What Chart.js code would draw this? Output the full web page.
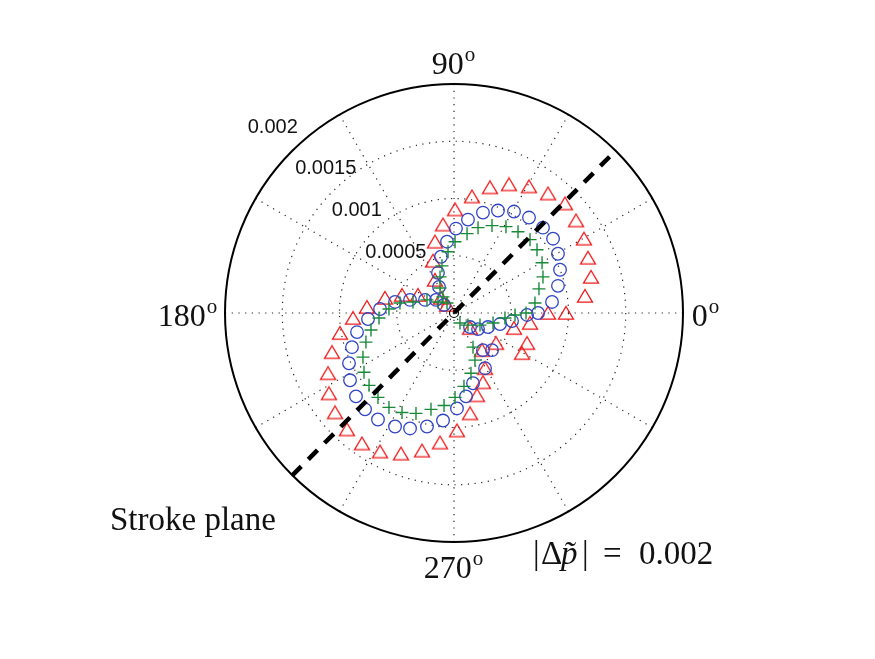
<!DOCTYPE html>
<html>
<head>
<meta charset="utf-8">
<script src="https://cdn.jsdelivr.net/npm/chart.js"></script>
<style>
  body { margin: 0; background: #fff; }
  canvas { display: block; }
</style>
</head>
<body>
<canvas id="polarChart" width="875" height="659"></canvas>
<script>
// Escala radial e ângulos
const rMax = 0.002;
const radialTicks = [0.0005, 0.001, 0.0015, 0.002];
const radialTickLabels = ["0.0005", "0.001", "0.0015", "0.002"];
const spokeAngles = [0, 30, 60, 90, 120, 150, 180, 210, 240, 270, 300, 330];
const angleLabelDeg = [0, 90, 180, 270];
const angleLabelText = ["0", "90", "180", "270"];
const strokePlaneDeg = 45;

// Triângulos vermelhos (componentes x / y de |Δp|)
const triX = [0.000009, -0.000096, -0.000166, -0.000183, -0.000166, -0.000114, -0.000061,
  0.000157, 0.000314, 0.000480, 0.000655, 0.000821, 0.000969, 0.001066, 0.001135, 0.001170,
  0.001197, 0.001144, 0.000978, 0.000821, 0.000664, 0.000524,
  -0.000314, -0.000454, -0.000603, -0.000760, -0.000882, -0.000996, -0.001066, -0.001100,
  -0.001092, -0.001039, -0.000935, -0.000804, -0.000646, -0.000463, -0.000279, -0.000122,
  0.000026, 0.000140, 0.000201, 0.000253, 0.000271, 0.000245, 0.000140, 0.000367, 0.000638, 0.000594];
const triY = [0.000900, 0.000769, 0.000620, 0.000454, 0.000288, 0.000131, 0.000070,
  0.001013, 0.001092, 0.001118, 0.001100, 0.001039, 0.000952, 0.000804, 0.000646, 0.000480,
  0.000314, 0.000148, 0, 0, -0.000087, -0.000131,
  0.000157, 0.000157, 0.000131, 0.000052, -0.000044, -0.000175, -0.000341, -0.000524,
  -0.000699, -0.000865, -0.001013, -0.001135, -0.001205, -0.001223, -0.001197, -0.001127,
  -0.001022, -0.000873, -0.000716, -0.000603, -0.000480, -0.000323, -0.000131, -0.000262, -0.000262, -0.000349];

// Círculos azuis
const circX = [0.000017, -0.000061, -0.000114, -0.000140, -0.000131, -0.000157, -0.000087,
  0.000122, 0.000253, 0.000384, 0.000524, 0.000655, 0.000777, 0.000865, 0.000908, 0.000926,
  0.000908, 0.000856, 0.000734, 0.000638, 0.000507, 0.000402, 0.000297, 0.000210, 0.000140,
  0.000253, 0.000332, 0.000271, 0.000166, 0.000105, 0.000026, -0.000096, -0.000236, -0.000384,
  -0.000515, -0.000664, -0.000777, -0.000856, -0.000908, -0.000917, -0.000891, -0.000847,
  -0.000751, -0.000646, -0.000515, -0.000384, -0.000253];
const circY = [0.000734, 0.000620, 0.000489, 0.000349, 0.000227, 0.000114, 0.000070,
  0.000812, 0.000873, 0.000891, 0.000882, 0.000830, 0.000742, 0.000646, 0.000515, 0.000376,
  0.000236, 0.000096, 0, -0.000017, -0.000070, -0.000096, -0.000122, -0.000140, -0.000122,
  -0.000323, -0.000323, -0.000480, -0.000611, -0.000725, -0.000830, -0.000935, -0.000987, -0.001004,
  -0.000987, -0.000926, -0.000838, -0.000725, -0.000585, -0.000437, -0.000297, -0.000166,
  -0.000052, 0.000035, 0.000096, 0.000114, 0.000114];

// Cruzes verdes
const plusX = [0.000009, -0.000052, -0.000105, -0.000122, -0.000122, -0.000096, -0.000061,
  0.000114, 0.000210, 0.000332, 0.000454, 0.000559, 0.000664, 0.000725, 0.000769, 0.000777,
  0.000742, 0.000707, 0.000629, 0.000533, 0.000445, 0.000341, 0.000227, 0.000122, 0.000052,
  0.000166, 0.000183, 0.000148, 0.000087, 0.000009, -0.000087, -0.000201, -0.000332, -0.000454,
  -0.000568, -0.000664, -0.000742, -0.000786, -0.000795, -0.000769, -0.000725, -0.000655,
  -0.000568, -0.000472, -0.000358, -0.000236, -0.000140];
const plusY = [0.000620, 0.000533, 0.000410, 0.000314, 0.000218, 0.000140, 0.000087,
  0.000690, 0.000742, 0.000760, 0.000751, 0.000707, 0.000638, 0.000550, 0.000437, 0.000314,
  0.000210, 0.000087, 0, -0.000017, -0.000044, -0.000087, -0.000105, -0.000105, -0.000087,
  -0.000297, -0.000410, -0.000524, -0.000638, -0.000734, -0.000804, -0.000838, -0.000873, -0.000865,
  -0.000821, -0.000734, -0.000629, -0.000515, -0.000384, -0.000253, -0.000148, -0.000044,
  0.000035, 0.000087, 0.000096, 0.000114, 0.000096];

function toPoints(xs, ys) {
  return xs.map((v, i) => ({ x: v, y: ys[i] }));
}

// Marcador triangular (estilo MATLAB '^'), centrado na caixa
function triangleMarker(color) {
  const c = document.createElement("canvas");
  c.width = 18;
  c.height = 16;
  const g = c.getContext("2d");
  g.strokeStyle = color;
  g.lineWidth = 1.3;
  g.beginPath();
  g.moveTo(9, 1.5);
  g.lineTo(16.5, 14.2);
  g.lineTo(1.5, 14.2);
  g.closePath();
  g.stroke();
  return c;
}

const sp = strokePlaneDeg * Math.PI / 180;
const strokePlane = [
  { x: -rMax * Math.cos(sp), y: -rMax * Math.sin(sp) },
  { x: rMax * Math.cos(sp), y: rMax * Math.sin(sp) },
];

function drawDegLabel(ctx, text, cx, baseY) {
  ctx.font = "32px 'Liberation Serif'";
  const w1 = ctx.measureText(text).width;
  ctx.font = "21px 'Liberation Serif'";
  const w2 = ctx.measureText("o").width;
  const x0 = cx - (w1 + w2) / 2;
  ctx.font = "32px 'Liberation Serif'";
  ctx.fillText(text, x0, baseY);
  ctx.font = "21px 'Liberation Serif'";
  ctx.fillText("o", x0 + w1 + 1, baseY - 13);
}

// Grade polar (círculos e raios pontilhados) e textos
const polarGrid = {
  id: "polarGrid",
  beforeDatasetsDraw(chart) {
    const { ctx, scales: { x, y } } = chart;
    const cx = x.getPixelForValue(0), cy = y.getPixelForValue(0);
    const R = x.getPixelForValue(rMax) - cx;
    ctx.save();
    ctx.strokeStyle = "#222";
    ctx.lineWidth = 1.2;
    ctx.setLineDash([1.2, 5.5]);
    radialTicks.forEach((t) => {
      if (t >= rMax) return;
      const r = x.getPixelForValue(t) - cx;
      ctx.beginPath();
      ctx.arc(cx, cy, r, 0, Math.PI * 2);
      ctx.stroke();
    });
    spokeAngles.forEach((a) => {
      const rad = a * Math.PI / 180;
      ctx.beginPath();
      ctx.moveTo(cx, cy);
      ctx.lineTo(cx + R * Math.cos(rad), cy - R * Math.sin(rad));
      ctx.stroke();
    });
    ctx.setLineDash([]);
    ctx.strokeStyle = "#000";
    ctx.lineWidth = 2;
    ctx.beginPath();
    ctx.arc(cx, cy, R, 0, Math.PI * 2);
    ctx.stroke();
    ctx.restore();
  },
  afterDatasetsDraw(chart) {
    const { ctx, scales: { x, y } } = chart;
    const cx = x.getPixelForValue(0), cy = y.getPixelForValue(0);
    const R = x.getPixelForValue(rMax) - cx;
    ctx.save();
    ctx.fillStyle = "#111";

    // rótulos radiais
    ctx.font = "20px 'Liberation Sans'";
    ctx.textAlign = "center";
    ctx.textBaseline = "middle";
    const la = 133 * Math.PI / 180;
    radialTicks.forEach((t, i) => {
      const d = x.getPixelForValue(t) - cx + 28;
      const lx = cx + d * Math.cos(la) + (t === rMax ? -6 : 0) + (t === 0.0015 ? 8 : 0);
      ctx.fillText(radialTickLabels[i], lx, cy - d * Math.sin(la) + 2);
    });

    // rótulos de ângulo
    ctx.textAlign = "left";
    ctx.textBaseline = "alphabetic";
    const extra = { 0: 0, 90: 0, 180: 14, 270: 0 };
    angleLabelDeg.forEach((a, i) => {
      const rad = a * Math.PI / 180;
      const d = R * 1.1 + extra[a];
      const px = cx + d * Math.cos(rad) - 1;
      const py = cy - d * Math.sin(rad) + 13;
      drawDegLabel(ctx, angleLabelText[i], px, py);
    });

    // textos
    ctx.font = "33px 'Liberation Serif'";
    ctx.fillText("Stroke plane", 110, 530);

    ctx.font = "33px 'Liberation Serif'";
    ctx.fillText("|", 533, 564);
    ctx.fillText("\u0394", 541, 564);
    ctx.font = "italic 33px 'Liberation Serif'";
    ctx.fillText("p\u0303", 561, 564);
    ctx.font = "33px 'Liberation Serif'";
    ctx.fillText("|", 582, 564);
    ctx.fillText("=", 603, 564);
    ctx.fillText("0.002", 639, 564);
    ctx.restore();
  },
};

const config = {
  type: "scatter",
  data: {
    datasets: [
      {
        type: "line",
        label: "Stroke plane",
        data: strokePlane,
        borderColor: "#000",
        borderWidth: 4.5,
        borderDash: [13, 10],
        pointRadius: 0,
        fill: false,
      },
      {
        label: "origem",
        data: [{ x: 0, y: 0 }],
        pointStyle: "circle",
        pointRadius: 4.5,
        borderColor: "#000",
        backgroundColor: "rgba(0,0,0,0)",
        borderWidth: 1.2,
      },
      {
        label: "cruz",
        data: toPoints(plusX, plusY),
        pointStyle: "cross",
        pointRadius: 6.5,
        borderColor: "#188a38",
        borderWidth: 1.4,
      },
      {
        label: "círculo",
        data: toPoints(circX, circY),
        pointStyle: "circle",
        pointRadius: 6.3,
        borderColor: "#2f44c4",
        backgroundColor: "rgba(0,0,0,0)",
        borderWidth: 1.3,
      },
      {
        label: "triângulo",
        data: toPoints(triX, triY),
        pointStyle: triangleMarker("#f01818"),
        pointRadius: 8,
      },
    ],
  },
  options: {
    responsive: false,
    animation: false,
    devicePixelRatio: 1,
    layout: { padding: { left: 225, right: 192, top: 83, bottom: 116 } },
    plugins: {
      legend: { display: false },
      tooltip: { enabled: false },
    },
    scales: {
      x: { type: "linear", min: -rMax, max: rMax, display: false },
      y: { type: "linear", min: -rMax, max: rMax, display: false },
    },
  },
  plugins: [polarGrid],
};

window.onload = function () {
  const ctx = document.getElementById("polarChart").getContext("2d");
  const myChart = new Chart(ctx, config);
};
</script>
</body>
</html>
